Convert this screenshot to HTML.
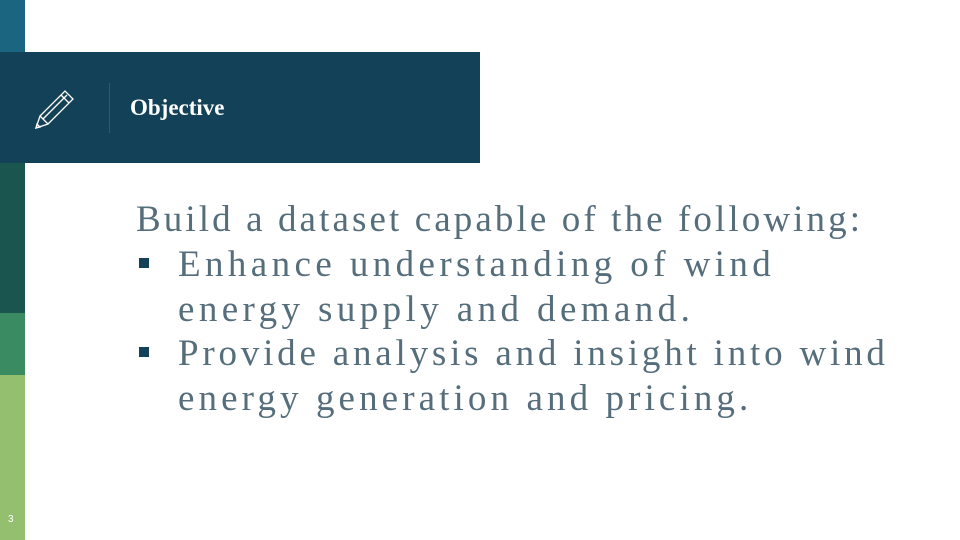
<!DOCTYPE html>
<html><head><meta charset="utf-8"><style>
body{margin:0;width:960px;height:540px;position:relative;background:#fff;overflow:hidden;font-family:"Liberation Serif",serif}
.seg{position:absolute;left:0;width:25px}
.t{position:absolute;left:0;white-space:nowrap;font-size:37px;color:#566e7b;font-weight:300;letter-spacing:3.1px}
.b{position:absolute;width:10px;height:10px;background:#134157}
</style></head><body>
<div class="seg" style="top:0;height:52px;background:#1c6580"></div>
<div class="seg" style="top:52px;height:106px;background:#134157"></div>
<div class="seg" style="top:158px;height:155px;background:#1a5550"></div>
<div class="seg" style="top:313px;height:62px;background:#3a8a62"></div>
<div class="seg" style="top:375px;height:165px;background:#93bf6e"></div>
<div style="position:absolute;left:8px;top:514px;font:10px 'Liberation Sans',sans-serif;color:#fff">3</div>
<div style="position:absolute;left:0;top:52px;width:480px;height:111px;background:#134157">
<svg width="50" height="50" style="position:absolute;left:32px;top:34px" viewBox="0 0 50 50"><g fill="none" stroke="#fff" stroke-width="1.3"><path d="M4 42 L8 30 L33 5 L41 13 L16 38 Z"/><path d="M8 30 L16 38"/><path d="M29 9 L37 17"/><path d="M11 33 L35 9"/><path d="M4 42 L5 38 L8 41 Z"/></g></svg>
<div style="position:absolute;left:109px;top:31px;width:1px;height:50px;background:#2e5a70"></div>
<div style="position:absolute;left:130px;top:43px;font:bold 23px 'Liberation Serif',serif;color:#fff">Objective</div>
</div>
<div class="t" style="left:136px;top:198px">Build a dataset capable of the following:</div>
<div class="b" style="left:139px;top:258px"></div>
<div class="t" style="left:178px;top:243px;letter-spacing:4.4px">Enhance understanding of wind</div>
<div class="t" style="left:178px;top:288px;letter-spacing:4.4px">energy supply and demand.</div>
<div class="b" style="left:139px;top:347px"></div>
<div class="t" style="left:178px;top:332px;letter-spacing:3.8px">Provide analysis and insight into wind</div>
<div class="t" style="left:178px;top:377px;letter-spacing:4.1px">energy generation and pricing.</div>
</body></html>
